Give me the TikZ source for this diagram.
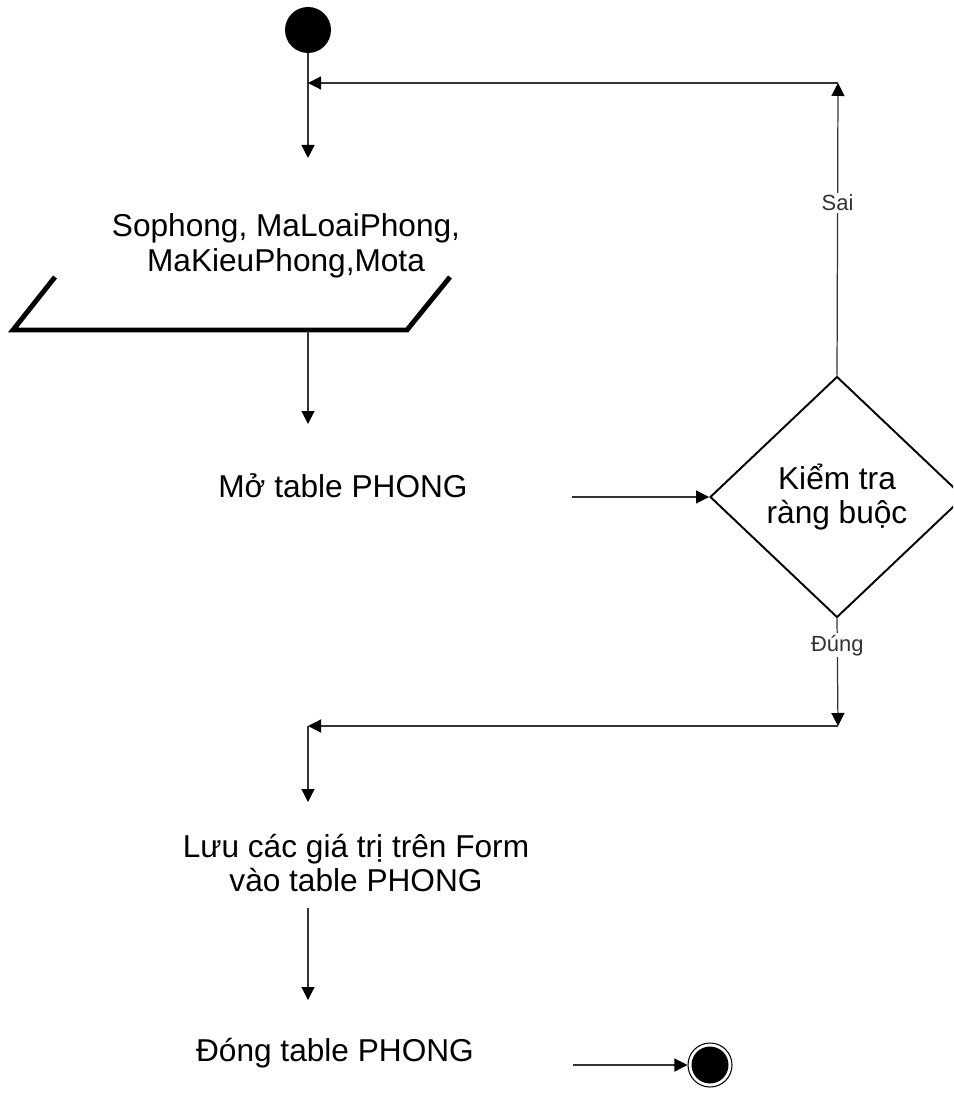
\documentclass[tikz,border=0pt]{standalone}
\usepackage{fontspec}
\setmainfont{Liberation Sans}
\usetikzlibrary{arrows.meta,shapes.geometric}

\tikzset{
  conn/.style={black!80, line width=0.7pt, -{Triangle[length=0.26cm,width=0.26cm,color=black]}},
  lbl/.style={fill=white, inner sep=1pt, font=\fontsize{12.5}{14}\selectfont},
  txt/.style={align=center, font=\fontsize{18}{19.6}\selectfont},
}

\begin{document}
\begin{tikzpicture}[x=0.02cm, y=-0.02cm]
			\clip (0,0) rectangle (953,1097);
			\useasboundingbox (0,0) rectangle (953,1097);
			
			% Start
			\node (start) [circle, fill=black, minimum size=0.92cm, inner sep=0] at (308,30) {};
			\coordinate (join1) at (308,83);
			\coordinate (corner1) at (838,83);
			\coordinate (in1) at (308,158);
			\draw[conn] (start) -- (in1);
			
			% Input data
			\node (input) [txt] at (286,246) {Sophong, MaLoaiPhong,\\MaKieuPhong,Mota};
			\draw[line width=2.8pt] (55,277) -- (13,330) -- (407,330) -- (450,277);
			\coordinate (inout) at (308,331);
			\coordinate (in2) at (308,424);
			\draw[conn] (inout) -- (in2);
			
			% Open table
			\node (open) [txt] at (343,486) {Mở table PHONG};
			\coordinate (out2) at (572,497);
			
			% Check constraints
			\node (check) [diamond, draw, line width=1.1pt, minimum width=5.08cm, minimum height=4.82cm, inner sep=0, align=center, font=\fontsize{18}{19.6}\selectfont] at (837,497) {Kiểm tra\\ràng buộc};
			\draw[conn] (out2) -- (check.west);
			
			% False: back to the top
			\draw[conn] (check.north) -- node[lbl, pos=0.59] {Sai} (corner1);
			\draw[conn] (corner1) -- (join1);
			
			% True: go on
			\coordinate (corner2) at (838,726);
			\coordinate (join2) at (308,726);
			\coordinate (in3) at (308,802);
			\draw[conn] (check.south) -- node[lbl, pos=0.25] {Đúng} (corner2);
			\draw[conn] (corner2) -- (join2);
			\draw[conn] (join2) -- (in3);
			
			% Save values
			\node (save) [txt] at (356,863) {Lưu các giá trị trên Form\\vào table PHONG};
			\coordinate (out3) at (308,908);
			\coordinate (in4) at (308,1000);
			\draw[conn] (out3) -- (in4);
			
			% Close table and end
			\node (close) [txt] at (335,1053) {Đóng table PHONG};
			\coordinate (out4) at (573,1065);
			\node (stop) [circle, draw, line width=0.6pt, minimum size=0.88cm, inner sep=0,
			  path picture={\fill (path picture bounding box.center) circle (0.37cm);}] at (710,1065) {};
			\draw[conn] (out4) -- (stop);
\end{tikzpicture}
\end{document}
